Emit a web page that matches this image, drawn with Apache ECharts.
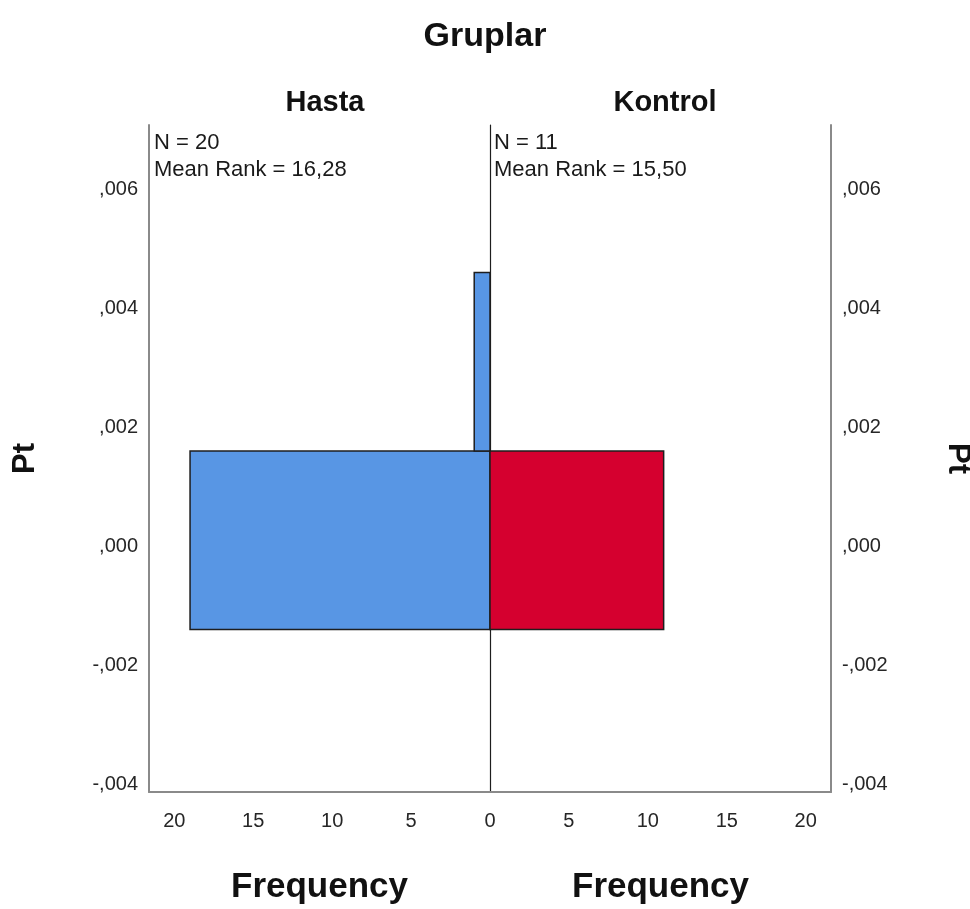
<!DOCTYPE html>
<html>
<head>
<meta charset="utf-8">
<title>Gruplar</title>
<script src="https://cdn.jsdelivr.net/npm/echarts@6/dist/echarts.min.js"></script>
<style>
  html, body { margin: 0; padding: 0; background: #ffffff; }
  #chart { width: 970px; height: 909px; }
</style>
</head>
<body>
<div id="chart"></div>
<script>
// Group names
const groups = ['Hasta', 'Kontrol'];

// Histogram bins of Pt: [lower edge, upper edge, frequency]
const hastaBins = [
  [-0.0014, 0.0016, 19],
  [0.0016, 0.0046, 1]
];
const kontrolBins = [
  [-0.0014, 0.0016, 11]
];

// Mean ranks per group
const meanRanks = ['16,28', '15,50'];

// Tick values
const ptTicks = [-0.004, -0.002, 0, 0.002, 0.004, 0.006];
const freqTicksLeft = [5, 10, 15, 20];
const freqTicksRight = [0, 5, 10, 15, 20];

// Axis ranges
const ptMin = -0.00413, ptMax = 0.00708;
const freqMax = 21.6;

const FONT = 'Liberation Sans, Arial, sans-serif';
const AXIS_GRAY = '#8a8a8a';
const LABEL_COLOR = '#262626';

const sum = arr => arr.reduce((s, b) => s + b[2], 0);

// SPSS-style decimal: ,006  -,002
function ptFormat(v) {
  const s = Math.abs(v).toFixed(3).replace('0.', ',');
  return (v < -1e-12 ? '-' : '') + s;
}

function renderBin(params, api) {
  const lo = api.value(0), hi = api.value(1), n = api.value(2);
  const a = api.coord([0, lo]);
  const b = api.coord([n, hi]);
  return {
    type: 'rect',
    shape: {
      x: Math.min(a[0], b[0]),
      y: Math.min(a[1], b[1]),
      width: Math.abs(b[0] - a[0]),
      height: Math.abs(b[1] - a[1])
    },
    style: api.style({ stroke: '#1e1e1e', lineWidth: 1.5 })
  };
}

const chart = echarts.init(document.getElementById('chart'), null, { renderer: 'canvas' });

const yAxisBase = {
  type: 'value',
  min: ptMin,
  max: ptMax,
  splitLine: { show: false },
  axisTick: { show: false },
  axisLine: { show: true, onZero: false, lineStyle: { color: AXIS_GRAY, width: 2 } },
  axisLabel: {
    customValues: ptTicks,
    formatter: ptFormat,
    color: LABEL_COLOR,
    fontSize: 20,
    fontFamily: FONT,
    margin: 11
  },
  name: 'Pt',
  nameLocation: 'middle',
  nameTextStyle: { fontSize: 31, fontWeight: 'bold', color: '#111', fontFamily: FONT }
};

const xAxisBase = {
  type: 'value',
  min: 0,
  max: freqMax,
  splitLine: { show: false },
  axisTick: { show: false },
  axisLine: { show: true, onZero: false, lineStyle: { color: AXIS_GRAY, width: 2 } },
  name: 'Frequency',
  nameLocation: 'middle',
  nameGap: 78,
  nameTextStyle: { fontSize: 35, fontWeight: 'bold', color: '#111', fontFamily: FONT }
};

const option = {
  backgroundColor: '#ffffff',
  animation: false,
  textStyle: { fontFamily: FONT },
  title: [
    { text: 'Gruplar', left: 'center', top: 15,
      textStyle: { fontSize: 34, fontWeight: 'bold', color: '#111', fontFamily: FONT } },
    { text: groups[0], left: 320, top: 83, textAlign: 'center',
      textStyle: { fontSize: 29, fontWeight: 'bold', color: '#111', fontFamily: FONT } },
    { text: groups[1], left: 660, top: 83, textAlign: 'center',
      textStyle: { fontSize: 29, fontWeight: 'bold', color: '#111', fontFamily: FONT } },
    { text: 'N = ' + sum(hastaBins) + '\nMean Rank = ' + meanRanks[0], left: 154, top: 129, padding: 0,
      textStyle: { fontSize: 22, fontWeight: 'normal', color: '#1a1a1a', lineHeight: 27, fontFamily: FONT } },
    { text: 'N = ' + sum(kontrolBins) + '\nMean Rank = ' + meanRanks[1], left: 494, top: 129, padding: 0,
      textStyle: { fontSize: 22, fontWeight: 'normal', color: '#1a1a1a', lineHeight: 27, fontFamily: FONT } }
  ],
  grid: [
    { left: 149, right: 480, top: 125, bottom: 117, outerBoundsMode: 'none' },
    { left: 490, right: 139, top: 125, bottom: 117, outerBoundsMode: 'none' }
  ],
  xAxis: [
    Object.assign({}, xAxisBase, {
      gridIndex: 0, inverse: true,
      axisLabel: { customValues: freqTicksLeft, color: LABEL_COLOR, fontSize: 20, fontFamily: FONT, margin: 19 }
    }),
    Object.assign({}, xAxisBase, {
      gridIndex: 1,
      axisLabel: { customValues: freqTicksRight, color: LABEL_COLOR, fontSize: 20, fontFamily: FONT, margin: 19 }
    })
  ],
  yAxis: [
    Object.assign({}, yAxisBase, { gridIndex: 0, position: 'left', nameGap: 108, nameRotate: 90 }),
    Object.assign({}, yAxisBase, { gridIndex: 1, position: 'right', nameGap: 111, nameRotate: -90 }),
    // divider between the two groups at frequency 0
    {
      type: 'value', gridIndex: 1, position: 'left', min: ptMin, max: ptMax,
      splitLine: { show: false }, axisTick: { show: false }, axisLabel: { show: false },
      axisLine: { show: true, onZero: false, lineStyle: { color: '#1e1e1e', width: 1.2 } }
    }
  ],
  series: [
    {
      name: groups[0], type: 'custom', xAxisIndex: 0, yAxisIndex: 0,
      itemStyle: { color: '#5896e4' },
      renderItem: renderBin,
      encode: { x: 2, y: [0, 1] },
      data: hastaBins
    },
    {
      name: groups[1], type: 'custom', xAxisIndex: 1, yAxisIndex: 1,
      itemStyle: { color: '#d5002f' },
      renderItem: renderBin,
      encode: { x: 2, y: [0, 1] },
      data: kontrolBins
    }
  ]
};

chart.setOption(option);
</script>
</body>
</html>
